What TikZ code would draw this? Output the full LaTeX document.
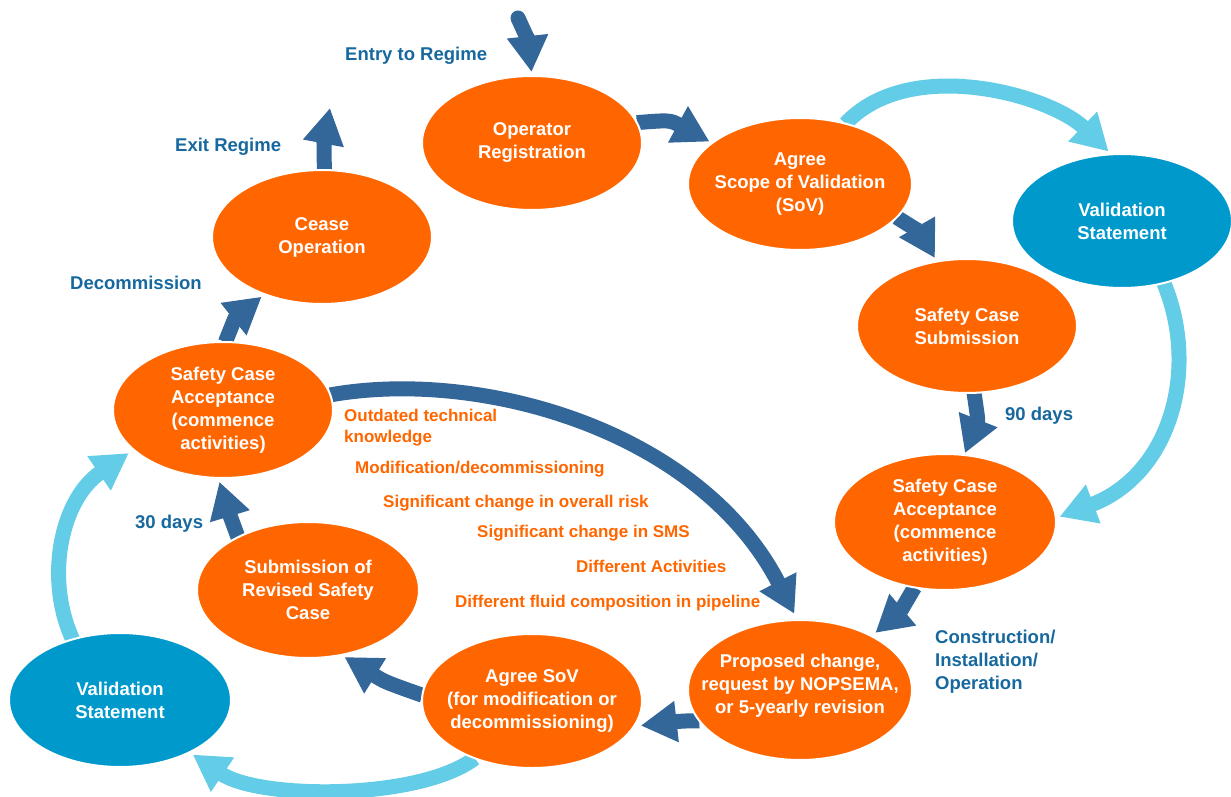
\documentclass[tikz,border=0pt]{standalone}
\usepackage{fontspec}
\setmainfont{Liberation Sans}
\usetikzlibrary{shapes.geometric,arrows.meta}
\pgfdeclarelayer{bg}
\pgfsetlayers{bg,main}
\definecolor{orng}{RGB}{255,102,0}
\definecolor{cblue}{RGB}{0,153,204}
\definecolor{darkarr}{RGB}{51,102,153}
\definecolor{lightarr}{RGB}{99,204,230}
\definecolor{lblblue}{RGB}{22,104,158}
\tikzset{
  ell/.style={ellipse, fill=orng, draw=white, line width=2pt, minimum width=220pt, minimum height=134pt, inner sep=0pt, outer sep=0pt},
  bell/.style={ell, fill=cblue},
  etext/.style={text=white, font=\bfseries\fontsize{18.5}{23}\selectfont, align=center, inner sep=0pt},
  darr/.style={line width=15pt, draw=darkarr, -{Triangle[width=39pt,length=36pt]}},
  larr/.style={line width=15pt, draw=lightarr, -{Triangle[width=39pt,length=36pt]}},
  lbl/.style={text=lblblue, font=\bfseries\fontsize{18.5}{23}\selectfont, inner sep=0pt, anchor=base west},
  cause/.style={text=orng, font=\bfseries\fontsize{17}{22}\selectfont, inner sep=0pt, anchor=base west}
}
\begin{document}
\begin{tikzpicture}[x=1pt,y=-1pt]
\useasboundingbox (0,0) rectangle (1231,797);
% ellipses
\node[ell] (opreg) at (532,143) {};
\node[ell, minimum width=224pt, minimum height=132pt] (agree) at (800,184) {};
\node[bell] (valR) at (1122,221) {};
\node[ell] (scsub) at (967,326) {};
\node[ell, minimum width=222pt, minimum height=136pt] (saccR) at (945,522) {};
\node[ell, minimum width=224pt, minimum height=140pt] (prop) at (800,690) {};
\node[ell] (asov) at (532,701) {};
\node[ell, minimum width=222pt, minimum height=136pt] (subrev) at (308,590) {};
\node[bell, minimum width=222pt] (valL) at (120,700) {};
\node[ell, minimum height=136pt] (saccL) at (223,410) {};
\node[ell] (cease) at (322,237) {};
% ellipse texts
\node[etext] (opreg-t) at (opreg) {Operator\\Registration};
\node[etext] (agree-t) at (agree) {Agree\\Scope of Validation\\(SoV)};
\node[etext] (valR-t) at (valR) {Validation\\Statement};
\node[etext] (scsub-t) at (scsub) {Safety Case\\Submission};
\node[etext] (saccR-t) at (saccR) {Safety Case\\Acceptance\\(commence\\activities)};
\node[etext] (prop-t) at ([yshift=4pt]prop.center) {Proposed change,\\request by NOPSEMA,\\or 5-yearly revision};
\node[etext] (asov-t) at (asov) {Agree SoV\\(for modification or\\decommissioning)};
\node[etext] (subrev-t) at (subrev) {Submission of\\Revised Safety\\Case};
\node[etext] (valL-t) at (valL) {Validation\\Statement};
\node[etext] (saccL-t) at (saccL) {Safety Case\\Acceptance\\(commence\\activities)};
\node[etext] (cease-t) at (cease) {Cease\\Operation};
% labels
\node[lbl] (l-entry) at (345,61) {Entry to Regime};
\node[lbl] (l-exit) at (175,151) {Exit Regime};
\node[lbl] (l-decom) at (70,289) {Decommission};
\node[lbl] (l-90) at (1005,420) {90 days};
\node[lbl] (l-30) at (135,528) {30 days};
\node[lbl] (l-con1) at (935,643) {Construction/};
\node[lbl] (l-con2) at (935,666) {Installation/};
\node[lbl] (l-con3) at (935,689) {Operation};
% causes
\node[cause] (c1a) at (344,421) {Outdated technical};
\node[cause] (c1b) at (344,442) {knowledge};
\node[cause] (c2) at (355,473) {Modification/decommissioning};
\node[cause] (c3) at (383,507) {Significant change in overall risk};
\node[cause] (c4) at (477,537) {Significant change in SMS};
\node[cause] (c5) at (576,572) {Different Activities};
\node[cause] (c6) at (455,607) {Different fluid composition in pipeline};
% free ends
\coordinate (entry) at (518,18);
\coordinate (exit) at (330,108);
\begin{pgfonlayer}{bg}
\draw[darr, line cap=round, shorten >=4pt] (entry) .. controls (528,40) .. (opreg.north);
\draw[darr, shorten >=3pt] (opreg.11) .. controls (670,120) .. (agree.155);
\draw[darr, shorten >=4pt] (agree.-19) .. controls (920,232) .. (scsub.115);
\draw[larr, shorten >=4pt] (agree.53) .. controls (910,55) and (1050,95) .. (valR.99);
\draw[larr, shorten >=4pt] (valR.-56) .. controls (1200,370) and (1170,475) .. (saccR.2);
\draw[darr, shorten >=2pt] (scsub.-84) .. controls (978,420) .. (saccR.74);
\draw[darr, shorten >=5pt] (saccR.-115) .. controls (900,612) .. (prop.37);
\draw[darr, shorten >=7pt] (prop.-163) .. controls (682,721) .. (asov.-14);
\draw[darr, shorten >=4pt] (asov.177) .. controls (385,682) .. (subrev.-63);
\draw[larr, shorten >=4pt] (asov.-135) .. controls (420,800) and (260,800) .. (valL.-37);
\draw[larr, shorten >=6pt] (valL.128) .. controls (45,580) and (60,500) .. (saccL.-156);
\draw[darr, shorten >=4pt] (subrev.143) .. controls (228,510) .. (saccL.-94);
\draw[darr, shorten >=4pt] (saccL.88) .. controls (235,318) .. (cease.-135.5);
\draw[darr] (cease.88) .. controls (324,140) .. (exit);
\draw[darr, shorten >=7pt] (saccL.8) .. controls (480,368) and (700,430) .. (prop.92);
\end{pgfonlayer}
\end{tikzpicture}
\end{document}
